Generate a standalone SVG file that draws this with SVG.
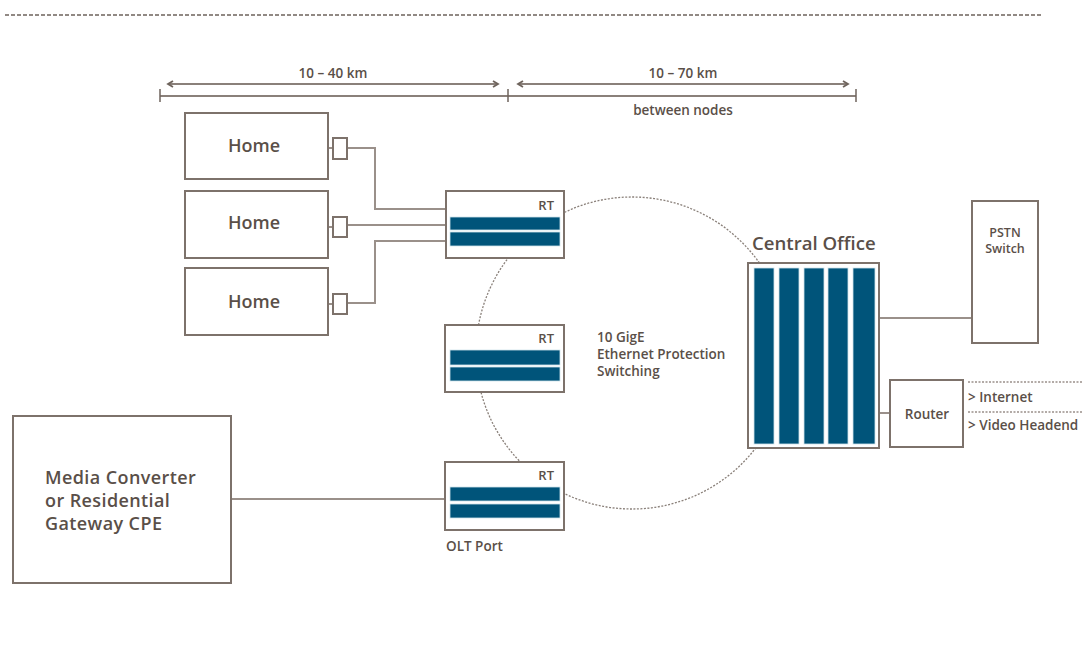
<svg xmlns="http://www.w3.org/2000/svg" width="1086" height="652" viewBox="0 0 1086 652">
<defs>
<style>
.t{font-family:"Open Sans","Liberation Sans",sans-serif;fill:#5a4f48;font-weight:600}
.box{fill:#fff;stroke:#7d726b;stroke-width:2}
.ln{fill:none;stroke:#9a908a;stroke-width:2}
.bar{fill:#00547a;stroke:#cfe3ea;stroke-width:0.8}
.dot{fill:none;stroke:#8a807a;stroke-width:1.3;stroke-dasharray:2 1.5}
</style>
<marker id="ah" viewBox="0 0 8 8" refX="6" refY="4" markerWidth="8" markerHeight="8" orient="auto-start-reverse" markerUnits="userSpaceOnUse">
<path d="M1 1 L6 4 L1 7" fill="none" stroke="#6e635c" stroke-width="1.8"/>
</marker>
</defs>
<rect width="1086" height="652" fill="#fff"/>
<line x1="5" y1="15" x2="1043" y2="15" stroke="#6e635c" stroke-width="1.3" stroke-dasharray="4 2"/>

<g id="scale">
<line x1="168" y1="84" x2="498" y2="84" stroke="#8a807a" stroke-width="2" marker-start="url(#ah)" marker-end="url(#ah)"/>
<line x1="518" y1="84" x2="848" y2="84" stroke="#8a807a" stroke-width="2" marker-start="url(#ah)" marker-end="url(#ah)"/>
<line x1="160" y1="96" x2="856" y2="96" stroke="#8a807a" stroke-width="2"/>
<line x1="160" y1="89" x2="160" y2="102" stroke="#6e635c" stroke-width="1.5"/>
<line x1="508" y1="89" x2="508" y2="102" stroke="#6e635c" stroke-width="1.5"/>
<line x1="856" y1="89" x2="856" y2="102" stroke="#6e635c" stroke-width="1.5"/>
<text class="t" x="333" y="78" font-size="13.5" text-anchor="middle">10 – 40 km</text>
<text class="t" x="683" y="78" font-size="13.5" text-anchor="middle">10 – 70 km</text>
<text class="t" x="683" y="115" font-size="13.5" text-anchor="middle">between nodes</text>
</g>

<g id="connectors">
<circle cx="632" cy="353" r="156" class="dot"/>
<polyline class="ln" points="328,148 333,148"/>
<polyline class="ln" points="347,148 375,148 375,209 446,209"/>
<polyline class="ln" points="328,227 333,227"/>
<polyline class="ln" points="347,225 446,225"/>
<polyline class="ln" points="328,304 333,304"/>
<polyline class="ln" points="347,303 375,303 375,241 446,241"/>
<line class="ln" x1="231" y1="499" x2="446" y2="499"/>
<line class="ln" x1="879" y1="318" x2="972" y2="318"/>
<line class="ln" x1="879" y1="413" x2="890" y2="413"/>
<line x1="968" y1="382" x2="1083" y2="382" stroke="#9a908a" stroke-width="1.3" stroke-dasharray="2 1.5"/>
<line x1="968" y1="412" x2="1083" y2="412" stroke="#9a908a" stroke-width="1.3" stroke-dasharray="2 1.5"/>
</g>

<g id="home1">
<rect class="box" x="185" y="113" width="143" height="66"/>
<text class="t" x="254" y="152" font-size="18" text-anchor="middle">Home</text>
<rect class="box" x="333" y="138" width="14" height="21" stroke-width="1.5"/>
</g>
<g id="home2">
<rect class="box" x="185" y="191" width="143" height="67"/>
<text class="t" x="254" y="229" font-size="18" text-anchor="middle">Home</text>
<rect class="box" x="333" y="217" width="14" height="20" stroke-width="1.5"/>
</g>
<g id="home3">
<rect class="box" x="185" y="268" width="143" height="67"/>
<text class="t" x="254" y="308" font-size="18" text-anchor="middle">Home</text>
<rect class="box" x="333" y="294" width="14" height="20" stroke-width="1.5"/>
</g>

<g id="rt1">
<rect class="box" x="446" y="191" width="118" height="67"/>
<text class="t" x="554" y="210" font-size="13" text-anchor="end">RT</text>
<rect class="bar" x="450" y="217" width="110" height="13"/>
<rect class="bar" x="450" y="232" width="110" height="14"/>
</g>
<g id="rt2">
<rect class="box" x="445" y="325" width="119" height="67"/>
<text class="t" x="554" y="343" font-size="13" text-anchor="end">RT</text>
<rect class="bar" x="450" y="350" width="110" height="15"/>
<rect class="bar" x="450" y="367" width="110" height="14"/>
</g>
<g id="rt3">
<rect class="box" x="445" y="462" width="119" height="68"/>
<text class="t" x="554" y="480" font-size="13" text-anchor="end">RT</text>
<rect class="bar" x="450" y="487" width="110" height="14"/>
<rect class="bar" x="450" y="504" width="110" height="14"/>
<text class="t" x="446" y="551" font-size="13.5">OLT Port</text>
</g>

<g id="ring-label">
<text class="t" x="597" y="342" font-size="13.5">10 GigE</text>
<text class="t" x="597" y="359" font-size="13.5">Ethernet Protection</text>
<text class="t" x="597" y="376" font-size="13.5">Switching</text>
</g>

<g id="media">
<rect class="box" x="13" y="416" width="218" height="167"/>
<text class="t" x="45" y="484" font-size="18" letter-spacing="0.4">Media Converter</text>
<text class="t" x="45" y="507" font-size="18" letter-spacing="0.4">or Residential</text>
<text class="t" x="45" y="530" font-size="18" letter-spacing="0.4">Gateway CPE</text>
</g>

<g id="central-office">
<text class="t" x="752" y="250" font-size="18.6">Central Office</text>
<rect class="box" x="748" y="263" width="131" height="185"/>
<rect class="bar" x="754" y="268" width="20" height="176"/>
<rect class="bar" x="779" y="268" width="20" height="176"/>
<rect class="bar" x="804" y="268" width="20" height="176"/>
<rect class="bar" x="828" y="268" width="20" height="176"/>
<rect class="bar" x="853" y="268" width="22" height="176"/>
</g>

<g id="pstn">
<rect class="box" x="972" y="201" width="66" height="142"/>
<text class="t" x="1005" y="237" font-size="12.5" text-anchor="middle">PSTN</text>
<text class="t" x="1005" y="253" font-size="12.5" text-anchor="middle">Switch</text>
</g>

<g id="router">
<rect class="box" x="890" y="380" width="73" height="67"/>
<text class="t" x="927" y="419" font-size="13.5" text-anchor="middle">Router</text>
<text class="t" x="968" y="402" font-size="13.5">&gt; Internet</text>
<text class="t" x="968" y="430" font-size="13.5">&gt; Video Headend</text>
</g>
</svg>
